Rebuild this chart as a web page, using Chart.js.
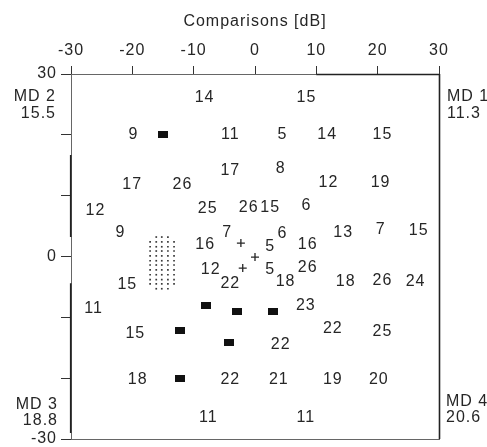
<!DOCTYPE html>
<html><head><meta charset="utf-8">
<script src="https://cdn.jsdelivr.net/npm/chart.js@4/dist/chart.umd.min.js"></script>
<style>html,body{margin:0;padding:0;background:#fff}#wrap{width:487px;height:447px}</style>
</head><body><div id="wrap"><canvas id="c" width="487" height="447"></canvas></div>
<script>
// ---- data ----
const xTicks = [-30, -20, -10, 0, 10, 20, 30];
const yTicks = [-30, -20, -10, 0, 10, 20, 30];
const yLabeledTicks = [-30, 0, 30];
const axisTitle = 'Comparisons [dB]';

const thresholdValues = [14, 15, 9, 11, 5, 14, 15, 17, 8, 12, 19, 17, 26, 12, 25, 26, 15, 6,
  9, 16, 7, 5, 6, 16, 13, 7, 15, 15, 12, 22, 5, 18, 26, 18, 26, 24, 11, 23, 15, 22, 25, 22,
  18, 22, 21, 19, 20, 11, 11];
const thresholdX = [-8.3, 8.3, -19.9, -4.1, 4.4, 11.7, 20.7, -4.1, 4.1, 11.9, 20.4, -20.1, -11.9,
  -26.1, -7.8, -1.1, 2.4, 8.3, -22.0, -8.2, -4.6, 2.4, 4.4, 8.5, 14.3, 20.4, 26.6,
  -20.9, -7.3, -4.1, 2.4, 4.9, 8.5, 14.7, 20.7, 26.1, -26.4, 8.2, -19.6, 12.6, 20.7, 4.1,
  -19.2, -4.1, 3.8, 12.6, 20.1, -7.7, 8.2];
const thresholdY = [26.2, 26.2, 20.1, 20.1, 20.1, 20.0, 20.1, 14.2, 14.4, 12.2, 12.2, 11.8, 11.8,
  7.6, 7.8, 8.0, 8.0, 8.3, 3.9, 1.9, 3.9, 1.6, 3.7, 1.9, 4.0, 4.4, 4.2,
  -4.7, -2.2, -4.4, -2.1, -4.2, -1.9, -4.2, -4.0, -4.2, -8.6, -8.0, -12.6, -11.8, -12.4, -14.5,
  -20.3, -20.3, -20.3, -20.3, -20.3, -26.5, -26.5];

const deepDefectX = [-15.0, -8.0, -2.9, 2.9, -12.2, -4.2, -12.2];
const deepDefectY = [20.1, -8.1, -9.1, -9.0, -12.2, -14.2, -20.1];

const crossX = [-2.3, 0.0, -2.0];
const crossY = [2.2, -0.1, -1.9];

// blind spot dot pattern: one y per row, with the x columns of that row
const blindSpotRowY = [3.2, 2.4, 1.6, 0.9, 0.1, -0.7, -1.4, -2.2, -3.0, -3.8, -4.5, -5.3];
const blindSpotRowX = [
  [-16.1, -15.2, -14.2],
  [-17.1, -16.1, -15.2, -14.2, -13.2],
  [-17.1, -16.1, -15.2, -14.2, -13.2],
  [-17.1, -16.1, -15.2, -14.2, -13.2],
  [-17.1, -16.1, -15.2, -14.2, -13.2],
  [-17.1, -16.1, -15.2, -14.2, -13.2],
  [-17.1, -16.1, -15.2, -14.2, -13.2],
  [-17.1, -16.1, -15.2, -14.2, -13.2],
  [-17.1, -16.1, -15.2, -14.2, -13.2],
  [-17.1, -16.1, -15.2, -14.2, -13.2],
  [-17.1, -16.1, -15.2, -14.2, -13.2],
  [-16.1, -15.2, -14.2]
];

const mdNames = ['MD 1', 'MD 2', 'MD 3', 'MD 4'];
const mdValues = ['11.3', '15.5', '18.8', '20.6'];

// ---- build ----
const FONT = '"Liberation Sans", Arial, Helvetica, sans-serif';
const INK = '#262626';

const textPts = thresholdValues.map((v, i) => ({x: thresholdX[i], y: thresholdY[i]}));
const squarePts = deepDefectX.map((x, i) => ({x, y: deepDefectY[i]}));
const crossPts = crossX.map((x, i) => ({x, y: crossY[i]}));
const dotPts = [];
blindSpotRowY.forEach((y, r) => blindSpotRowX[r].forEach(x => dotPts.push({x, y})));

const sq = document.createElement('canvas');
sq.width = 10; sq.height = 7;
const sctx = sq.getContext('2d');
sctx.fillStyle = '#111';
sctx.fillRect(0, 0, 10, 7);

const valueLabels = {
  id: 'valueLabels',
  afterDatasetsDraw(chart) {
    const ctx = chart.ctx;
    const meta = chart.getDatasetMeta(0);
    ctx.save();
    ctx.letterSpacing = '1px';
    ctx.font = '16px ' + FONT;
    ctx.fillStyle = INK;
    ctx.textAlign = 'center';
    ctx.textBaseline = 'middle';
    meta.data.forEach((el, i) => ctx.fillText(String(thresholdValues[i]), el.x + 0.5, el.y));
    ctx.restore();
  }
};

const frameAndMD = {
  id: 'frameAndMD',
  beforeDraw(chart) { chart.ctx.letterSpacing = '1px'; },
  afterDraw(chart) {
    const {ctx, chartArea: a} = chart;
    const ys = chart.scales.y, xs = chart.scales.x;
    ctx.save();
    ctx.strokeStyle = '#666';
    ctx.lineWidth = 1;
    ctx.strokeRect(a.left + 0.5, a.top + 0.5, a.right - a.left, a.bottom - a.top);
    // darker (thicker) stretches of the printed frame
    ctx.strokeStyle = '#222';
    ctx.lineWidth = 1.6;
    ctx.beginPath();
    ctx.moveTo(a.left - 0.3, ys.getPixelForValue(16.7)); ctx.lineTo(a.left - 0.3, ys.getPixelForValue(3.2));
    ctx.moveTo(a.left - 0.3, ys.getPixelForValue(-4.4)); ctx.lineTo(a.left - 0.3, ys.getPixelForValue(-29.0));
    ctx.moveTo(xs.getPixelForValue(10), a.top + 0.5); ctx.lineTo(a.right, a.top + 0.5);
    ctx.moveTo(a.right + 0.5, a.top); ctx.lineTo(a.right + 0.5, a.bottom);
    ctx.stroke();
    ctx.letterSpacing = '1px';
    ctx.font = '16px ' + FONT;
    ctx.fillStyle = INK;
    ctx.textBaseline = 'middle';
    // MD 2 (top-left), MD 1 (top-right), MD 3 (bottom-left), MD 4 (bottom-right)
    ctx.textAlign = 'right';
    ctx.fillText(mdNames[1], a.left - 15, a.top + 23);
    ctx.fillText(mdValues[1], a.left - 15, a.top + 40);
    ctx.fillText(mdNames[2], a.left - 13, a.bottom - 34);
    ctx.fillText(mdValues[2], a.left - 13, a.bottom - 18);
    ctx.textAlign = 'left';
    ctx.fillText(mdNames[0], a.right + 8, a.top + 23);
    ctx.fillText(mdValues[0], a.right + 8, a.top + 40);
    ctx.fillText(mdNames[3], a.right + 7, a.bottom - 37);
    ctx.fillText(mdValues[3], a.right + 7, a.bottom - 21);
    ctx.restore();
  }
};

new Chart(document.getElementById('c'), {
  type: 'scatter',
  data: {
    datasets: [
      {label: 'values', data: textPts, pointRadius: 0, pointHoverRadius: 0},
      {label: 'deep defects', data: squarePts, pointStyle: sq, pointRadius: 5},
      {label: 'cross', data: crossPts, pointStyle: 'cross', pointRadius: 4, borderColor: INK, borderWidth: 1.3, backgroundColor: INK},
      {label: 'blind spot', data: dotPts, pointStyle: 'rect', pointRadius: 1.2, borderWidth: 0, backgroundColor: '#3a3a3a'}
    ]
  },
  options: {
    responsive: false,
    animation: false,
    devicePixelRatio: 1,
    layout: {padding: {left: 0, right: 48, top: 0, bottom: 8}},
    plugins: {legend: {display: false}, tooltip: {enabled: false}, title: {display: false}},
    scales: {
      x: {
        type: 'linear', position: 'top', min: -30, max: 30,
        afterBuildTicks: s => { s.ticks = xTicks.map(v => ({value: v})); },
        afterFit: s => { s.height = 74; s.paddingLeft = 0; s.paddingRight = 0; },
        ticks: {font: {size: 16, family: FONT}, color: INK, padding: 6, maxRotation: 0,
          callback: v => String(v)},
        grid: {drawOnChartArea: false, drawTicks: true, tickLength: 8, color: '#333', lineWidth: 1},
        border: {display: false},
        title: {display: true, text: axisTitle, font: {size: 16, family: FONT}, color: INK, padding: {top: 12, bottom: 0}}
      },
      y: {
        type: 'linear', position: 'left', min: -30, max: 30,
        afterBuildTicks: s => { s.ticks = yTicks.map(v => ({value: v})); },
        afterFit: s => { s.width = 71; s.paddingTop = 0; s.paddingBottom = 0; },
        ticks: {font: {size: 16, family: FONT}, color: INK, padding: 4,
          callback: v => yLabeledTicks.includes(v) ? String(v) : ''},
        grid: {drawOnChartArea: false, drawTicks: true, tickLength: 10, color: '#333', lineWidth: 1},
        border: {display: false}
      }
    }
  },
  plugins: [valueLabels, frameAndMD]
});
</script>
</body></html>
